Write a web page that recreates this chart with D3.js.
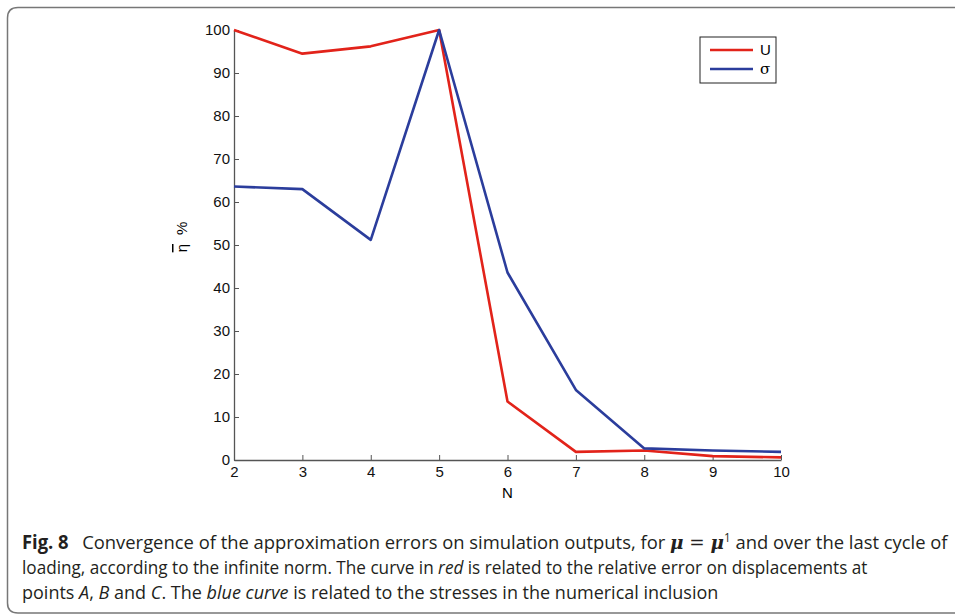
<!doctype html>
<html>
<head>
  <meta charset="utf-8">
  <title>d3</title>
  <style>
    body { margin: 0; background: #fff; }
    svg { display: block; }
  </style>
</head>
<body>
  <svg width="955" height="616"></svg>

  <script src="https://d3js.org/d3.v7.min.js"></script>
  <script>
    const nValues = [2, 3, 4, 5, 6, 7, 8, 9, 10];
    const uValues = [100, 94.5, 96.2, 100, 13.6, 1.9, 2.2, 0.9, 0.6];
    const sigmaValues = [63.6, 63.0, 51.2, 100, 43.6, 16.3, 2.7, 2.2, 1.9];
    const yTicks = [0, 10, 20, 30, 40, 50, 60, 70, 80, 90, 100];
    const seriesNames = ['U', 'σ'];
    const seriesColors = ['#e2231a', '#2b3d9c'];

    const svg = d3.select('svg');
    const x = d3.scaleLinear().domain([2, 10]).range([234, 781]);
    const y = d3.scaleLinear().domain([0, 100]).range([460, 30]);

    // frame
    svg.append('path')
      .attr('d', 'M960,7.5 L18,7.5 Q7.5,7.5 7.5,18 L7.5,603 Q7.5,613 18,613 L960,613')
      .attr('fill', 'none')
      .attr('stroke', '#777')
      .attr('stroke-width', 1.5);

    const axisFont = 'Liberation Sans, Arial, sans-serif';
    const fs = 15;

    // x axis
    const gx = svg.append('g')
      .attr('transform', `translate(0, ${y(0)})`)
      .call(d3.axisBottom(x).tickValues(nValues).tickSizeInner(-5).tickSizeOuter(0).tickPadding(6));
    gx.select('.domain').attr('stroke', '#555').attr('stroke-width', 1.3);
    gx.selectAll('.tick line').attr('stroke', '#555');
    gx.selectAll('.tick text').attr('font-family', axisFont).attr('font-size', fs).attr('fill', '#111');

    // y axis
    const gy = svg.append('g')
      .attr('transform', `translate(${x(2)}, 0)`)
      .call(d3.axisLeft(y).tickValues(yTicks).tickSizeInner(-5).tickSizeOuter(0).tickPadding(4));
    gy.select('.domain').attr('stroke', '#555').attr('stroke-width', 1.3);
    gy.selectAll('.tick line').attr('stroke', '#555');
    gy.selectAll('.tick text').attr('font-family', axisFont).attr('font-size', fs).attr('fill', '#111');

    svg.append('text')
      .attr('x', (x(2) + x(10)) / 2)
      .attr('y', 498)
      .attr('text-anchor', 'middle')
      .attr('font-family', axisFont)
      .attr('font-size', fs)
      .text('N');

    svg.append('text')
      .attr('transform', 'translate(187, 237) rotate(-90)')
      .attr('text-anchor', 'middle')
      .attr('font-family', axisFont)
      .attr('font-size', fs)
      .call(t => {
        t.append('tspan').attr('text-decoration', 'overline').text('η');
        t.append('tspan').attr('dx', 9).text('%');
      });

    // lines
    const line = d3.line()
      .x((d, i) => x(nValues[i]))
      .y(d => y(d));

    [uValues, sigmaValues].forEach((vals, i) => {
      svg.append('path')
        .datum(vals)
        .attr('fill', 'none')
        .attr('stroke', seriesColors[i])
        .attr('stroke-width', 2.6)
        .attr('stroke-linejoin', 'round')
        .attr('d', line);
    });

    // legend
    const legend = svg.append('g').attr('transform', 'translate(700, 37)');
    legend.append('rect')
      .attr('width', 76).attr('height', 46)
      .attr('fill', '#fff').attr('stroke', '#222').attr('stroke-width', 1);
    seriesNames.forEach((name, i) => {
      const ly = 13 + i * 19;
      legend.append('line')
        .attr('x1', 10).attr('x2', 53)
        .attr('y1', ly).attr('y2', ly)
        .attr('stroke', seriesColors[i]).attr('stroke-width', 2.6);
      legend.append('text')
        .attr('x', 60).attr('y', ly + 5)
        .attr('font-family', i === 0 ? axisFont : 'DejaVu Serif, serif')
        .attr('font-size', fs)
        .text(name);
    });

    // caption: measured, then squeezed horizontally to the reference width
    const capFont = 'Open Sans, Noto Sans, sans-serif';
    const caption = svg.append('g')
      .attr('font-family', capFont)
      .attr('font-size', 19)
      .attr('fill', '#231f20');

    function capLine(yPos, width, build) {
      const t = caption.append('text').attr('x', 0).attr('y', 0);
      build(t);
      const natural = t.node().getBBox().width;
      t.attr('transform', `translate(22, ${yPos}) scale(${width / natural}, 1)`);
    }

    capLine(549, 928, t => {
      t.append('tspan').attr('font-weight', 'bold').text('Fig. 8');
      t.append('tspan').attr('dx', 14).text('Convergence of the approximation errors on simulation outputs, for ');
      t.append('tspan').attr('font-family', 'DejaVu Serif, serif').attr('font-weight', 'bold').attr('font-style', 'italic').text('μ');
      t.append('tspan').attr('font-family', 'DejaVu Serif, serif').text(' = ');
      t.append('tspan').attr('font-family', 'DejaVu Serif, serif').attr('font-weight', 'bold').attr('font-style', 'italic').text('μ');
      t.append('tspan').attr('font-size', 12).attr('baseline-shift', '7').text('1');
      t.append('tspan').text(' and over the last cycle of');
    });

    capLine(574, 846, t => {
      t.append('tspan').text('loading, according to the infinite norm. The curve in ');
      t.append('tspan').attr('font-style', 'italic').text('red');
      t.append('tspan').text(' is related to the relative error on displacements at');
    });

    capLine(599, 697, t => {
      t.append('tspan').text('points ');
      t.append('tspan').attr('font-style', 'italic').text('A');
      t.append('tspan').text(', ');
      t.append('tspan').attr('font-style', 'italic').text('B');
      t.append('tspan').text(' and ');
      t.append('tspan').attr('font-style', 'italic').text('C');
      t.append('tspan').text('. The ');
      t.append('tspan').attr('font-style', 'italic').text('blue curve');
      t.append('tspan').text(' is related to the stresses in the numerical inclusion');
    });
  </script>
</body>
</html>
